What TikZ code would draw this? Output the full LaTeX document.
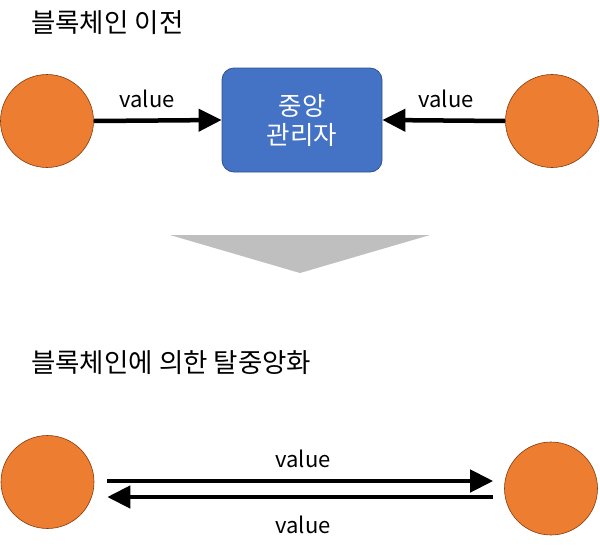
\documentclass[tikz,border=0pt]{standalone}
\usepackage{fontspec}
\setmainfont{Noto Sans CJK KR}
\usetikzlibrary{arrows.meta}
\definecolor{orangish}{RGB}{237, 125, 49}
\definecolor{orangeedge}{RGB}{132, 60, 12}
\definecolor{blueish}{RGB}{68, 114, 196}
\definecolor{blueedge}{RGB}{47, 82, 143}
\definecolor{greyish}{RGB}{191, 191, 191}
\tikzset{
  peer_n/.style = {circle, draw=orangeedge, fill=orangish, line width=0.6pt,
    minimum size=93pt, inner sep=0pt},% participant
  mgr_n/.style = {rectangle, rounded corners=12pt, draw=blueedge, fill=blueish,
    line width=0.8pt, minimum width=160pt, minimum height=104pt, align=center,
    text=white, font=\fontsize{25.5}{29}\selectfont},% central manager
  title_t/.style = {anchor=base west, inner sep=0pt, font=\fontsize{26.5}{30}\selectfont},
  val_t/.style = {anchor=base, inner sep=0pt, font=\fontsize{22}{26}\selectfont},
  flow/.style = {line width=4.5pt, -{Triangle[length=23pt, width=22pt]}},
}
\begin{document}
\begin{tikzpicture}[x=1pt, y=-1pt]
\useasboundingbox (0,0) rectangle (600,552);
% before blockchain
\node [title_t] (t1) at (31,32) {블록체인 이전};
\node [peer_n] (p1) at (47,121) {};
\node [peer_n] (p2) at (552,121) {};
\node [mgr_n] (mgr) at (302,120) {중앙\\관리자};
\draw [flow] (p1.east) -- (mgr.west);
\draw [flow] (p2.west) -- (mgr.east);
\node [val_t] (v1) at (147,107) {value};
\node [val_t] (v2) at (446,107) {value};
% down arrow
\fill [greyish] (170,235) -- (430,235) -- (300,273) -- cycle;
% decentralised
\node [title_t] (t2) at (31,372) {블록체인에 의한 탈중앙화};
\node [peer_n] (p3) at (47.5,482) {};
\node [peer_n] (p4) at (551,488.5) {};
\draw [flow, shorten <=13pt, shorten >=11pt] (p3.east |- 0,481) -- (p4.west |- 0,481);
\draw [flow, shorten <=11pt, shorten >=13pt] (p4.west |- 0,497) -- (p3.east |- 0,497);
\node [val_t] (v3) at (303,467) {value};
\node [val_t] (v4) at (303,533) {value};
\end{tikzpicture}
\end{document}
